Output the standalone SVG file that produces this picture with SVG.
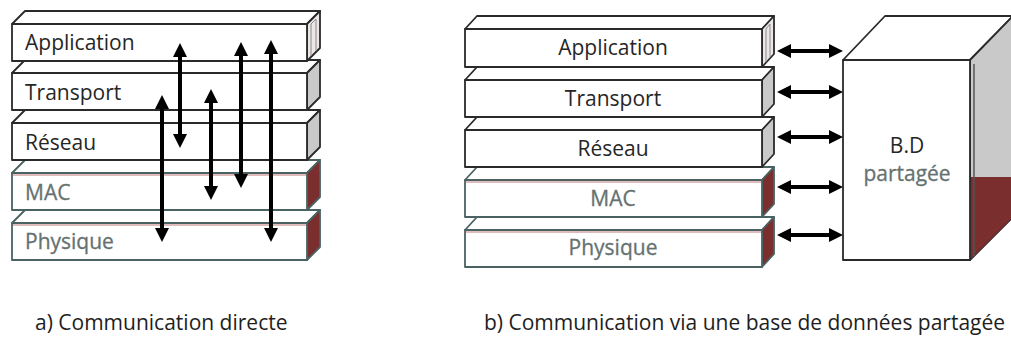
<svg xmlns="http://www.w3.org/2000/svg" width="1011" height="338" viewBox="0 0 1011 338">
  <style>
    .face { fill: #ffffff; stroke: #2a2a2a; stroke-width: 1.8; stroke-linejoin: round; }
    .faceLow { fill: #ffffff; stroke: #4a6262; stroke-width: 1.8; stroke-linejoin: round; }
    .sideLight { fill: #ece6e6; stroke: #2a2a2a; stroke-width: 1.8; stroke-linejoin: round; }
    .sideGray { fill: #c9c9c9; stroke: #2a2a2a; stroke-width: 1.8; stroke-linejoin: round; }
    .sideRed { fill: #7a2e2e; stroke: #4a6262; stroke-width: 1.8; stroke-linejoin: round; }
    .redEdge { stroke: #c07878; stroke-width: 1; fill: none; }
    .inner { stroke: #8a8a8a; stroke-width: 1; fill: none; }
    .lbl { font-family: "Open Sans", "Liberation Sans", sans-serif; font-size: 21px; fill: #262626; }
    .lblLow { font-family: "Open Sans", "Liberation Sans", sans-serif; font-size: 21px; fill: #667170; stroke: #667170; stroke-width: 0.3; }
    .mid { text-anchor: middle; }
    .cap { font-family: "Open Sans", "Liberation Sans", sans-serif; font-size: 21px; fill: #1e1e1e; }
    .arrow { stroke: #000000; stroke-width: 4; fill: none; marker-start: url(#head); marker-end: url(#head); }
  </style>
  <defs>
    <marker id="head" markerUnits="userSpaceOnUse" markerWidth="14" markerHeight="14" refX="0" refY="7" orient="auto-start-reverse">
      <path d="M0,0 L14,7 L0,14 z" fill="#000000"/>
    </marker>
  </defs>

  <!-- a) direct communication stack: drawn bottom-up so upper layers sit on top -->
  <g id="left-physique">
    <polygon class="faceLow" points="12,223 25,210 320,210 307,223"/>
    <polygon class="sideRed" points="307,223 320,210 320,247 307,260"/>
    <rect class="faceLow" x="12" y="223" width="295" height="37"/>
    <line class="redEdge" x1="13" y1="225" x2="306" y2="225"/>
    <text class="lblLow" x="25" y="249">Physique</text>
  </g>
  <g id="left-mac">
    <polygon class="faceLow" points="12,173 25,160 320,160 307,173"/>
    <polygon class="sideRed" points="307,173 320,160 320,197 307,210"/>
    <rect class="faceLow" x="12" y="173" width="295" height="37"/>
    <line class="redEdge" x1="13" y1="175" x2="306" y2="175"/>
    <text class="lblLow" x="25" y="200">MAC</text>
  </g>
  <g id="left-reseau">
    <polygon class="face" points="12,123 25,110 320,110 307,123"/>
    <polygon class="sideGray" points="307,123 320,110 320,147 307,160"/>
    <rect class="face" x="12" y="123" width="295" height="37"/>
    <text class="lbl" x="25" y="150">Réseau</text>
  </g>
  <g id="left-transport">
    <polygon class="face" points="12,73 25,60 320,60 307,73"/>
    <polygon class="sideGray" points="307,73 320,60 320,97 307,110"/>
    <rect class="face" x="12" y="73" width="295" height="37"/>
    <text class="lbl" x="25" y="100">Transport</text>
  </g>
  <g id="left-application">
    <polygon class="face" points="12,24 25,11 320,11 307,24"/>
    <polygon class="sideLight" points="307,24 320,11 320,48 307,61"/>
    <polyline class="inner" points="311,56 311,24 316,19 316,51"/>
    <rect class="face" x="12" y="24" width="295" height="37"/>
    <text class="lbl" x="25" y="50">Application</text>
  </g>

  <!-- b) shared-database stack -->
  <g id="right-physique">
    <polygon class="faceLow" points="465,230 477,217 774,217 762,230"/>
    <polygon class="sideRed" points="762,230 774,217 774,254 762,267"/>
    <rect class="faceLow" x="465" y="230" width="297" height="37"/>
    <line class="redEdge" x1="466" y1="232" x2="761" y2="232"/>
    <text class="lblLow mid" x="613" y="255">Physique</text>
  </g>
  <g id="right-mac">
    <polygon class="faceLow" points="465,180 477,167 774,167 762,180"/>
    <polygon class="sideRed" points="762,180 774,167 774,204 762,217"/>
    <rect class="faceLow" x="465" y="180" width="297" height="37"/>
    <line class="redEdge" x1="466" y1="182" x2="761" y2="182"/>
    <text class="lblLow mid" x="613" y="206">MAC</text>
  </g>
  <g id="right-reseau">
    <polygon class="face" points="465,130 477,117 774,117 762,130"/>
    <polygon class="sideGray" points="762,130 774,117 774,154 762,167"/>
    <rect class="face" x="465" y="130" width="297" height="37"/>
    <text class="lbl mid" x="613" y="156">Réseau</text>
  </g>
  <g id="right-transport">
    <polygon class="face" points="465,80 477,67 774,67 762,80"/>
    <polygon class="sideGray" points="762,80 774,67 774,104 762,117"/>
    <rect class="face" x="465" y="80" width="297" height="37"/>
    <text class="lbl mid" x="613" y="106">Transport</text>
  </g>
  <g id="right-application">
    <polygon class="face" points="465,29 477,16 774,16 762,29"/>
    <polygon class="sideLight" points="762,29 774,16 774,54 762,67"/>
    <polyline class="inner" points="766,62 766,29 770,24 770,57"/>
    <rect class="face" x="465" y="29" width="297" height="38"/>
    <text class="lbl mid" x="613" y="55">Application</text>
  </g>

  <!-- shared database block -->
  <g id="shared-db">
    <polygon class="face" points="843,60 885,16 1013,16 970,60"/>
    <polygon class="sideGray" points="970,60 1013,16 1013,217 970,260"/>
    <polygon fill="#7a2e2e" points="970,177 1013,177 1013,217 970,260"/>
    <line x1="974" y1="64" x2="974" y2="256" stroke="#555555" stroke-width="1.5"/>
    <rect class="face" x="843" y="60" width="127" height="200"/>
    <text class="lbl mid" x="907" y="153">B.D</text>
    <text class="lblLow mid" x="907" y="181">partagée</text>
  </g>

  <!-- connectors -->
  <g id="connectors">
    <line class="arrow" x1="180" y1="57" x2="180" y2="134"/>
    <line class="arrow" x1="162" y1="109" x2="162" y2="228"/>
    <line class="arrow" x1="211" y1="103" x2="211" y2="186"/>
    <line class="arrow" x1="241" y1="56" x2="241" y2="174"/>
    <line class="arrow" x1="271" y1="54" x2="271" y2="228"/>

    <line class="arrow" x1="791" y1="51" x2="829" y2="51"/>
    <line class="arrow" x1="791" y1="92" x2="829" y2="92"/>
    <line class="arrow" x1="791" y1="137" x2="829" y2="137"/>
    <line class="arrow" x1="791" y1="187" x2="829" y2="187"/>
    <line class="arrow" x1="791" y1="235" x2="829" y2="235"/>
  </g>

  <!-- captions -->
  <text class="cap" x="35" y="330">a) Communication directe</text>
  <text class="cap" x="484" y="330">b) Communication via une base de données partagée</text>
</svg>
